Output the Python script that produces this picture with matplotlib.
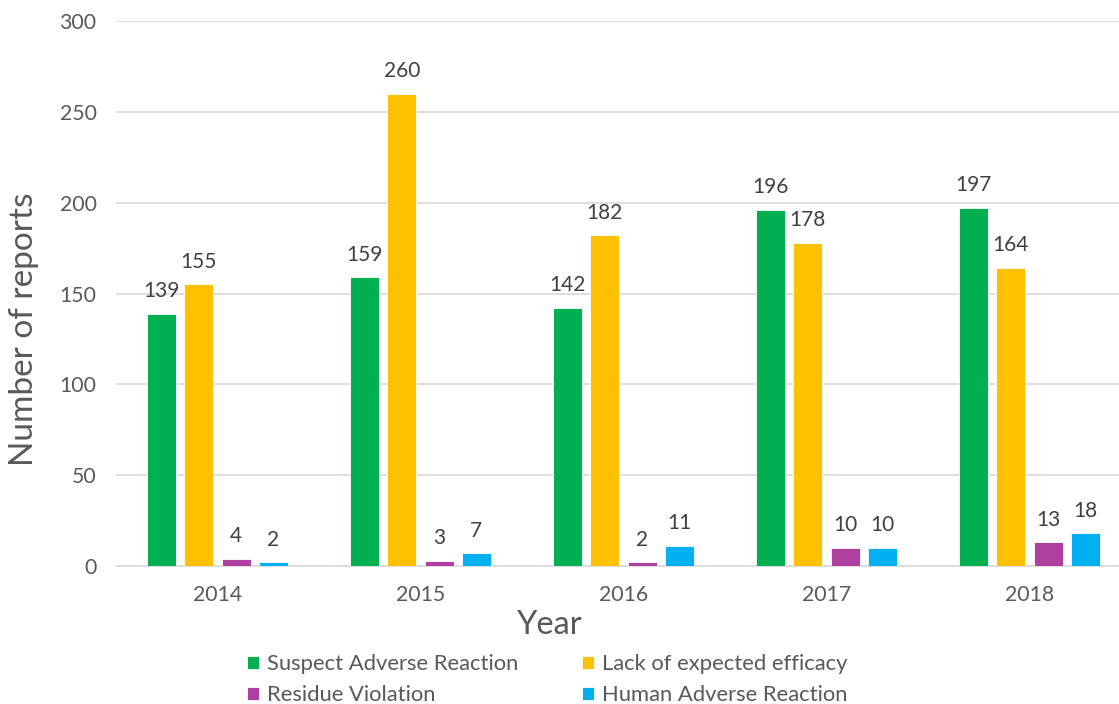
import matplotlib
matplotlib.use("Agg")
import matplotlib.pyplot as plt
import numpy as np

years = ["2014", "2015", "2016", "2017", "2018"]
series_names = ["Suspect Adverse Reaction", "Lack of expected efficacy",
                "Residue Violation", "Human Adverse Reaction"]
suspect = [139, 159, 142, 196, 197]
lack = [155, 260, 182, 178, 164]
residue = [4, 3, 2, 10, 13]
human = [2, 7, 11, 10, 18]
colors = ["#00B050", "#FFC000", "#B040A0", "#00B0F0"]

plt.rcParams['font.family'] = ['Lato', 'DejaVu Sans']
txt = "#595959"

fig = plt.figure(figsize=(11.19, 7.04), dpi=100)
ax = fig.add_axes([116 / 1119, 0.196, 1015 / 1119, 0.774])

x = np.arange(len(years))
width = 0.143
offsets = [-0.275, -0.092, 0.092, 0.275]
handles = []
for vals, name, c, off in zip([suspect, lack, residue, human], series_names, colors, offsets):
    bars = ax.bar(x + off, vals, width, color=c, label=name, zorder=3,
                  edgecolor="white", linewidth=0.6)
    handles.append(bars)
    for b, v in zip(bars, vals):
        ax.text(b.get_x() + b.get_width() / 2, v + 7, str(v), ha="center", va="bottom",
                fontsize=15, color="#404040")

ax.set_xlim(-0.5, 4.5)
ax.set_ylim(0, 300)
ax.set_yticks(range(0, 301, 50))
ax.set_xticks(x)
ax.set_xticklabels(years)
ax.grid(axis="y", color="#D9D9D9", linewidth=1.2, zorder=0)
for s in ["top", "right", "left"]:
    ax.spines[s].set_visible(False)
ax.spines["bottom"].set_color("#D9D9D9")
ax.spines["bottom"].set_linewidth(1.2)
ax.tick_params(axis="both", length=0, labelsize=15.3, colors=txt)
ax.tick_params(axis="x", pad=14)
ax.tick_params(axis="y", pad=14)
ax.set_ylabel("Number of reports", fontsize=24, color=txt)
ax.yaxis.set_label_coords(-0.076, 0.435)
ax.set_xlabel("Year", fontsize=23.5, color=txt)
ax.xaxis.set_label_coords(0.4276, -0.081)

order = [0, 2, 1, 3]
leg = fig.legend([handles[i] for i in order], [series_names[i] for i in order],
                 loc="upper left", bbox_to_anchor=(247 / 1119, 1 - 654 / 704), ncol=2,
                 frameon=False, borderpad=0, borderaxespad=0,
                 fontsize=15.8, handlelength=0.55, handleheight=0.55, handletextpad=0.38,
                 columnspacing=2.87, labelspacing=0.52)
for t in leg.get_texts():
    t.set_color(txt)

fig.savefig("out.png", dpi=100)
